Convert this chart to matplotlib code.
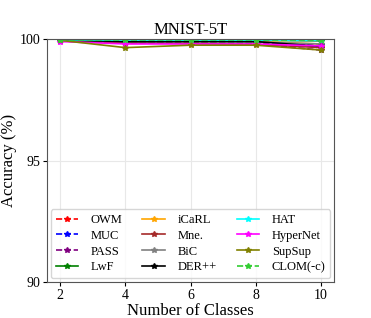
import matplotlib
matplotlib.use("Agg")
import matplotlib.pyplot as plt

plt.rcParams['font.family'] = ['Liberation Serif', 'DejaVu Serif']
plt.rcParams['mathtext.fontset'] = 'stix'

classes = [2, 4, 6, 8, 10]

owm = [99.95, 99.85, 99.85, 99.85, 99.7]
muc = [99.95, 99.9, 99.9, 99.88, 99.75]
pass_ = [99.92, 99.85, 99.85, 99.8, 99.55]
lwf = [99.97, 99.95, 99.95, 99.95, 99.93]
icarl = [99.97, 99.93, 99.9, 99.9, 99.8]
mne = [99.95, 99.85, 99.82, 99.78, 99.65]
bic = [99.96, 99.9, 99.9, 99.88, 99.8]
derpp = [99.96, 99.9, 99.9, 99.9, 99.7]
hat = [99.97, 99.96, 99.96, 99.96, 99.95]
hypernet = [99.9, 99.8, 99.8, 99.8, 99.72]
supsup = [99.95, 99.65, 99.75, 99.75, 99.55]
clom = [99.97, 99.97, 99.97, 99.97, 99.96]

series = [
    ('OWM', owm, 'red', '--'),
    ('MUC', muc, 'blue', '--'),
    ('PASS', pass_, 'purple', '--'),
    ('LwF', lwf, 'green', '-'),
    ('iCaRL', icarl, 'orange', '-'),
    ('Mne.', mne, 'brown', '-'),
    ('BiC', bic, 'grey', '-'),
    ('DER++', derpp, 'black', '-'),
    ('HAT', hat, 'cyan', '-'),
    ('HyperNet', hypernet, 'magenta', '-'),
    ('SupSup', supsup, 'olive', '-'),
    ('CLOM(-c)', clom, 'limegreen', '--'),
]

fig, ax = plt.subplots(figsize=(3.71, 3.18), dpi=100)
for name, vals, c, ls in series:
    ax.plot(classes, vals, color=c, linestyle=ls, marker='*', markersize=4,
            linewidth=1.2, label=name)

ax.set_xlim(1.6, 10.4)
ax.set_ylim(90, 100)
ax.set_xticks([2, 4, 6, 8, 10])
ax.set_yticks([90, 95, 100])
ax.tick_params(labelsize=10, length=3, pad=2)
ax.grid(True, color='#e8e8e8', linewidth=0.8)
ax.set_xlabel('Number of Classes', fontsize=12, labelpad=1)
ax.set_ylabel('Accuracy (%)', fontsize=12, labelpad=2)
ax.set_title('MNIST-5T', fontsize=12, pad=4)
ax.legend(ncol=3, loc='lower center', fontsize=9, handlelength=1.8,
          columnspacing=1.6, labelspacing=0.3, handletextpad=1.0,
          bbox_to_anchor=(0.5, 0.0), borderaxespad=0.3)
for s in ax.spines.values():
    s.set_color('#555555')

fig.subplots_adjust(left=0.127, right=0.9, top=0.877, bottom=0.113)
fig.savefig('out.png', dpi=100)
